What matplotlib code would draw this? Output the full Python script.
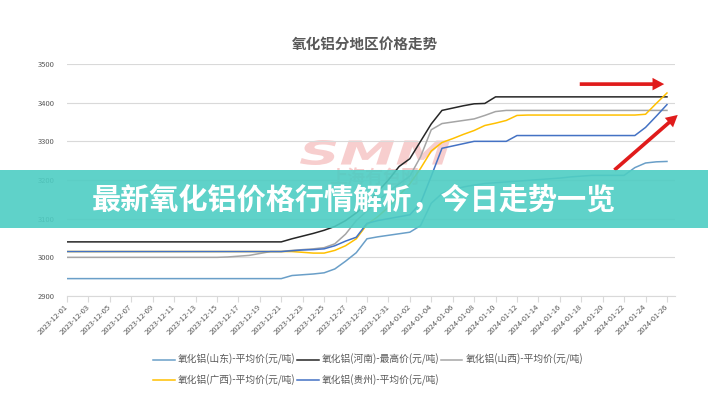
import matplotlib
matplotlib.use("Agg")
from matplotlib import pyplot as plt
from matplotlib.patches import Rectangle, PathPatch
from matplotlib.textpath import TextPath
from matplotlib.font_manager import FontProperties
from matplotlib.transforms import Affine2D
import pandas as pd

plt.rcParams["font.family"] = ["Noto Sans CJK SC", "DejaVu Sans"]

dates = pd.date_range("2023-12-01", "2024-01-26").strftime("%Y-%m-%d").tolist()

title = "氧化铝分地区价格走势"
banner = "最新氧化铝价格行情解析，今日走势一览"

# 元/吨, one value per calendar day
shandong = [2945] * 21 + [
    2953, 2955, 2957, 2960, 2970, 2990, 3012, 3048, 3053, 3057,
    3061, 3065, 3082, 3140, 3165, 3175, 3182, 3187, 3191, 3193,
    3195, 3197, 3199, 3201, 3203, 3205, 3208, 3210, 3212, 3212,
    3212, 3212, 3232, 3244, 3247, 3248]
henan = [3040] * 21 + [
    3048, 3055, 3062, 3070, 3080, 3095, 3115, 3140, 3170, 3200,
    3235, 3255, 3300, 3345, 3380, 3386, 3392, 3397, 3398] + [3415] * 17
shanxi = [3000] * 15 + [
    3001, 3003, 3005, 3010, 3015, 3015, 3018, 3020, 3022, 3025,
    3035, 3060, 3095, 3120, 3145, 3170, 3190, 3210, 3260, 3330,
    3346, 3350, 3354, 3358, 3367, 3377] + [3380] * 16
guangxi = [3015] * 22 + [
    3013, 3011, 3011, 3018, 3030, 3048, 3085, 3105, 3130, 3160,
    3190, 3230, 3275, 3297, 3307, 3318, 3328, 3341, 3347, 3354,
    3367] + [3368] * 11 + [3370, 3398, 3425]
guizhou = [3015] * 21 + [
    3017, 3019, 3020, 3022, 3030, 3042, 3052, 3088, 3095, 3100,
    3105, 3110, 3140, 3210, 3282, 3288, 3294, 3300, 3300, 3300,
    3300] + [3315] * 12 + [3336, 3365, 3395]

series = [
    ("氧化铝(山东)-平均价(元/吨)", shandong, "#6A9FC8"),
    ("氧化铝(河南)-最高价(元/吨)", henan, "#262626"),
    ("氧化铝(山西)-平均价(元/吨)", shanxi, "#A5A5A5"),
    ("氧化铝(广西)-平均价(元/吨)", guangxi, "#FFC000"),
    ("氧化铝(贵州)-平均价(元/吨)", guizhou, "#4472C4"),
]
y_ticks = [2900, 3000, 3100, 3200, 3300, 3400, 3500]

TEXT_GREY = "#595959"
GRID_GREY = "#D9D9D9"


def add_watermark(fig, ax):
    prop = FontProperties(family="DejaVu Sans", weight="bold", style="italic")
    path = TextPath((0, 0), "SMM", size=1, prop=prop)
    ext = path.get_extents()
    sx = 150 / ext.width
    sy = 25 / ext.height
    trans = Affine2D().translate(-ext.x0, -ext.y0).scale(sx, sy).translate(300, 399 - 165)
    patch = PathPatch(path, transform=trans, facecolor="#F6C2C2", edgecolor="none",
                      alpha=0.8, zorder=0.5)
    ax.add_artist(patch)
    ax.text(0.528, 0.556, "上海有色网", transform=fig.transFigure, ha="center",
            va="center", fontsize=13, fontweight="bold", color="#F6CACA", zorder=0.5)


def add_arrows(ax):
    style = "simple,head_length=0.7,head_width=0.75,tail_width=0.22"
    ax.annotate("", xy=(56.0, 3448), xytext=(47.6, 3448), annotation_clip=False,
                arrowprops=dict(arrowstyle=style, color="#E01B1B", lw=0,
                                mutation_scale=12))
    ax.annotate("", xy=(57.2, 3373), xytext=(50.9, 3221), annotation_clip=False,
                arrowprops=dict(arrowstyle=style, color="#E01B1B", lw=0,
                                mutation_scale=12))


fig = plt.figure(figsize=(7.08, 3.99), dpi=100)
ax = fig.add_axes([0.0946, 0.2581, 0.8588, 0.5815])

x = list(range(len(dates)))
handles = {}
for label, values, color in series:
    line, = ax.plot(x, values, color=color, lw=1.1, label=label, zorder=2)
    handles[label] = line

ax.set_xlim(0, 56.75)
ax.set_ylim(2900, 3500)
ax.set_yticks(y_ticks)
ax.set_yticklabels([str(v) for v in y_ticks], fontsize=5.5, color=TEXT_GREY)
ax.tick_params(axis="y", length=0, pad=9)
ax.set_xticks(x[::2])
ax.set_xticklabels(dates[::2], rotation=45, ha="right", va="center",
                   rotation_mode="anchor", fontsize=5.5, color=TEXT_GREY)
ax.tick_params(axis="x", length=4, color=GRID_GREY, pad=3)
ax.grid(axis="y", color=GRID_GREY, lw=0.8)
ax.set_axisbelow(True)
for side in ["left", "right", "top"]:
    ax.spines[side].set_visible(False)
ax.spines["bottom"].set_color(GRID_GREY)

add_watermark(fig, ax)
add_arrows(ax)

fig.text(0.516, 0.89, title, ha="center", va="center", fontsize=10.5,
         fontweight="bold", color=TEXT_GREY)

# legend fills column-wise, so reorder to get the two-row layout
order = [0, 3, 1, 4, 2]
leg = fig.legend([handles[series[i][0]] for i in order], [series[i][0] for i in order],
                 loc="center", bbox_to_anchor=(0.52, 0.073), ncol=3, frameon=False,
                 fontsize=7, handlelength=2.2, handletextpad=0.3, columnspacing=0.2,
                 labelspacing=0.9)
for t in leg.get_texts():
    t.set_color(TEXT_GREY)

fig.add_artist(Rectangle((0, 1 - 228 / 399), 1, 58 / 399, transform=fig.transFigure,
                         facecolor="#4ECDC3", edgecolor="none", alpha=0.9, zorder=5))
fig.text(0.5, 0.499, banner, ha="center", va="center", fontsize=21,
         fontweight="bold", color="white", zorder=6)

fig.savefig("out.png", dpi=100)
